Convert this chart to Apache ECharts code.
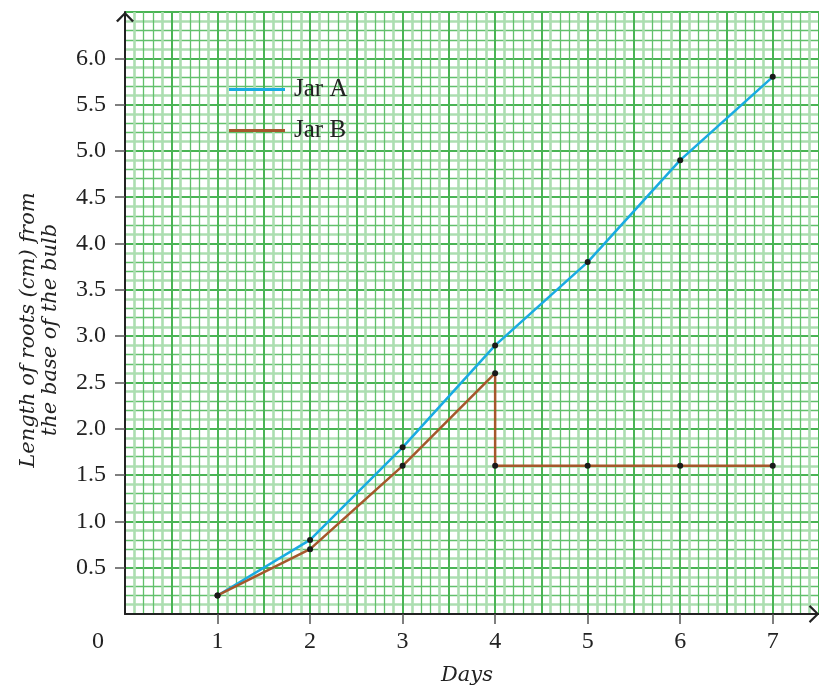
<!DOCTYPE html>
<html>
<head>
<meta charset="utf-8">
<script src="https://cdn.jsdelivr.net/npm/echarts@6/dist/echarts.min.js"></script>
<style>
  html, body { margin: 0; padding: 0; background: #ffffff; }
  #chart { width: 819px; height: 687px; }
</style>
</head>
<body>
<div id="chart"></div>
<script>
// ---- data ----
const days = [1, 2, 3, 4, 5, 6, 7];
const jarA = [0.2, 0.8, 1.8, 2.9, 3.8, 4.9, 5.8];
const jarBDays = [1, 2, 3, 4, 4, 5, 6, 7];
const jarB = [0.2, 0.7, 1.6, 2.6, 1.6, 1.6, 1.6, 1.6];
const xLabelValues = [0, 1, 2, 3, 4, 5, 6, 7];
const xTickValues = [1, 2, 3, 4, 5, 6, 7];
const yTickValues = [0.5, 1.0, 1.5, 2.0, 2.5, 3.0, 3.5, 4.0, 4.5, 5.0, 5.5, 6.0];
const seriesNames = ['Jar A', 'Jar B'];

const X_MAX = 7.5, Y_MAX = 6.5;
const FONT = 'Liberation Serif';
const NAME_FONT = 'DejaVu Serif';
const BLUE = '#19abe2';
const BROWN = '#a5572b';
const MAJOR = '#4ab454';
const THIN = '#62c06b';
const PALE = '#acdeb0';
const AXIS = '#222222';

const chevron = 'path://M0,10 L10,0 L20,10 L18,11.6 L10,3.2 L2,11.6 Z';

function gridAxis(max, interval, colors, width) {
  return {
    type: 'value', min: 0, max: max, interval: interval,
    axisLine: { show: false }, axisTick: { show: false }, axisLabel: { show: false },
    splitLine: { show: true, showMinLine: true, showMaxLine: true,
      lineStyle: { color: colors, width: width } }
  };
}

const xAxes = [
  {
    type: 'value', min: 0, max: X_MAX, interval: 1, position: 'bottom',
    name: 'Days', nameLocation: 'middle', nameGap: 50,
    nameTextStyle: { fontFamily: NAME_FONT, fontStyle: 'italic', fontSize: 21, color: '#222', lineHeight: 24, padding: [0, 10, 0, 0] },
    axisLine: { show: true, onZero: false, symbol: ['none', chevron], symbolSize: [18, 11], symbolOffset: [0, -5],
      lineStyle: { color: AXIS, width: 2 } },
    axisTick: { show: true, length: 10, lineStyle: { color: '#555', width: 1.5 }, customValues: xTickValues },
    axisLabel: { show: true, margin: 16, fontFamily: FONT, fontSize: 24, color: '#222',
      customValues: xLabelValues,
      formatter: function (v) { return v === 0 ? '{z|0}' : String(v); },
      rich: { z: { fontFamily: FONT, fontSize: 24, color: '#222', padding: [0, 54, 0, 0] } } },
    splitLine: { show: false }
  },
  Object.assign(gridAxis(X_MAX, 0.1, ['none', PALE, 'none', 'none', PALE], 2.6), { position: 'bottom' }),
  Object.assign(gridAxis(X_MAX, 0.1, ['none', 'none', THIN, THIN, 'none'], 1.3), { position: 'bottom' }),
  Object.assign(gridAxis(X_MAX, 0.5, [MAJOR], 2), { position: 'bottom' })
];

const yAxes = [
  {
    type: 'value', min: 0, max: Y_MAX, interval: 0.5, position: 'left',
    name: 'Length of roots (cm) from\nthe base of the bulb', nameLocation: 'middle', nameGap: 63,
    nameTextStyle: { fontFamily: NAME_FONT, fontStyle: 'italic', fontSize: 21, color: '#222', lineHeight: 22, padding: [0, 34, 0, 0] },
    axisLine: { show: true, onZero: false, symbol: ['none', chevron], symbolSize: [18, 11], symbolOffset: [0, -5],
      lineStyle: { color: AXIS, width: 2 } },
    axisTick: { show: true, length: 10, lineStyle: { color: '#555', width: 1.5 }, customValues: yTickValues },
    axisLabel: { show: true, margin: 19, fontFamily: FONT, fontSize: 24, color: '#222',
      customValues: yTickValues,
      formatter: function (v) { return v.toFixed(1); } },
    splitLine: { show: false }
  },
  Object.assign(gridAxis(Y_MAX, 0.1, ['none', PALE, 'none', 'none', PALE], 2.6), { position: 'left' }),
  Object.assign(gridAxis(Y_MAX, 0.1, ['none', 'none', THIN, THIN, 'none'], 1.3), { position: 'left' }),
  Object.assign(gridAxis(Y_MAX, 0.5, [MAJOR], 2), { position: 'left' })
];

const chart = echarts.init(document.getElementById('chart'), null, { renderer: 'canvas' });
chart.setOption({
  animation: false,
  backgroundColor: '#ffffff',
  grid: { left: 125, right: 0, top: 12, bottom: 73, containLabel: false, outerBoundsMode: 'none' },
  xAxis: xAxes,
  yAxis: yAxes,
  legend: {
    orient: 'vertical', left: 229, top: 77, itemGap: 16, padding: 0,
    icon: 'rect', itemWidth: 56, itemHeight: 3,
    textStyle: { fontFamily: FONT, fontSize: 25, color: '#222', padding: [0, 0, 0, 4] },
    data: [
      { name: seriesNames[0], itemStyle: { color: BLUE } },
      { name: seriesNames[1], itemStyle: { color: BROWN } }
    ]
  },
  series: [
    {
      name: seriesNames[0], type: 'line', xAxisIndex: 0, yAxisIndex: 0, z: 5,
      data: days.map((d, i) => [d, jarA[i]]),
      symbol: 'circle', symbolSize: 6, showSymbol: true,
      itemStyle: { color: '#1a1a1a' },
      lineStyle: { color: BLUE, width: 2.5 }
    },
    {
      name: seriesNames[1], type: 'line', xAxisIndex: 0, yAxisIndex: 0, z: 5,
      data: jarBDays.map((d, i) => [d, jarB[i]]),
      symbol: 'circle', symbolSize: 6, showSymbol: true,
      itemStyle: { color: '#1a1a1a' },
      lineStyle: { color: BROWN, width: 2.5 }
    }
  ]
});
</script>
</body>
</html>
